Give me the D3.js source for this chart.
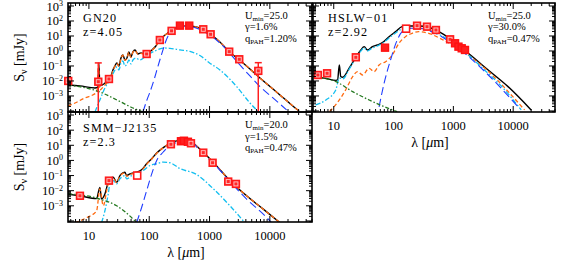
<!DOCTYPE html>
<html><head><meta charset="utf-8">
<script src="https://cdn.jsdelivr.net/npm/d3@7"></script>
<style>
body{margin:0;background:#fff}
svg{display:block}
text{font-family:"Liberation Serif","DejaVu Serif",serif;fill:#000}
</style>
</head><body>
<svg id="c" width="568" height="266"></svg>
<script>
// ---------------- DATA ----------------
const xTickLabels = ["10","100","1000","10000"];
const xTickValues = [10,100,1000,10000];
const yTickExps = [-3,-2,-1,0,1,2,3];

// GN20 (z=4.05)
const gn20Name = "GN20", gn20Z = "z=4.05";
const gn20Params = ["25.0","1.6%","1.20%"];
const gn20ObsLam  = [4.54, 14.3, 21.5, 90.6, 150, 235, 323, 461, 787, 1043, 2120, 3110, 6430];
const gn20ObsFlux = [0.010, 0.0089, 0.0135, 0.63, 5.4, 22, 49, 49, 28, 13, 0.9, 0.28, 0.047];
const gn20ObsHollow = [1,1,1,1,1,1,0,0,1,1,1,1,1];
const gn20ErrLo = [null, 1e-6, null, 0.42, null, null, null, null, null, null, null, null, 1e-6];
const gn20ErrHi = [null, 0.16, null, 0.95, null, null, null, null, null, null, null, null, 0.166];
const gn20TotLam  = [4.5, 7.1, 12.6, 14.1, 14.6, 15.2, 17.7, 20.7, 23.2, 25, 27, 29.1, 31.5, 34, 36.6, 39.6, 42.7, 46, 49.7, 53.7, 58, 65, 72.8, 84.9, 95, 111, 129, 150, 175, 204, 238, 277, 348, 400, 473, 618, 839, 1055, 1486, 2100, 3075, 4680, 6860, 10040, 14700, 21500, 30400];
const gn20TotFlux = [0.0054, 0.0047, 0.0034, 0.0039, 0.16, 0.0047, 0.0063, 0.0117, 0.0215, 0.054, 0.1, 0.16, 0.1, 0.34, 0.54, 0.25, 0.34, 0.86, 0.4, 0.86, 1.17, 0.63, 0.74, 0.63, 0.74, 1.17, 2.15, 5.4, 10, 16, 24, 35, 47, 49, 46, 38, 25, 12.6, 4.0, 0.93, 0.27, 0.063, 0.0158, 0.0043, 0.00117, 0.000316, 0.0001];
const gn20DustLam  = [4.5, 5.9, 8.6, 11.6, 13.6, 14.4, 15.2, 17.7, 20.7, 23.2, 25, 27, 29.1, 31.5, 34, 36.6, 39.6, 42.7, 46, 49.7, 53.7, 58, 65, 72.8, 84.9, 95, 111, 129, 150, 175, 204, 238, 277, 348, 400, 473, 618, 839, 1055, 1486, 2100, 3075, 4680, 6860, 10040, 14700, 21500, 30400];
const gn20DustFlux = [0.000215, 0.00034, 0.00074, 0.00117, 0.00185, 0.117, 0.0025, 0.0046, 0.0086, 0.0158, 0.05, 0.095, 0.15, 0.095, 0.32, 0.52, 0.24, 0.33, 0.83, 0.38, 0.83, 1.12, 0.6, 0.7, 0.6, 0.7, 1.12, 2.1, 5.3, 10, 16, 24, 35, 47, 49, 46, 38, 25, 12.6, 4.0, 0.93, 0.27, 0.063, 0.0158, 0.0043, 0.00117, 0.000316, 0.0001];
const gn20WarmLam  = [12.6, 15.2, 18.4, 22.3, 25, 27, 29.1, 31.5, 34, 36.6, 39.6, 42.7, 46, 49.7, 53.7, 60, 70, 84.9, 99, 124, 150, 182, 220, 323, 473, 693, 1000, 1486, 2820, 4680, 6430];
const gn20WarmFlux = [0.000085, 0.00054, 0.0034, 0.0117, 0.029, 0.054, 0.086, 0.054, 0.16, 0.215, 0.1, 0.136, 0.25, 0.136, 0.25, 0.34, 0.25, 0.4, 0.63, 1.0, 1.36, 1.58, 1.5, 1.17, 0.93, 0.5, 0.16, 0.054, 0.0042, 0.00034, 0.00009];
const gn20ColdLam  = [78.7, 91.6, 103, 120, 134, 150, 169, 189, 220, 267, 348, 473, 693, 1486, 3190, 4680, 6860, 11270, 18970];
const gn20ColdFlux = [0.000085, 0.00054, 0.00185, 0.0117, 0.054, 0.25, 1.17, 4.6, 15.8, 34, 46, 43, 27, 3.4, 0.117, 0.0215, 0.0042, 0.00074, 0.000117];
const gn20StarLam  = [4.5, 15.2, 29.1, 53.7, 78.7];
const gn20StarFlux = [0.0054, 0.00185, 0.00054, 0.000158, 0.000085];

// HSLW-01 (z=2.92)
const hslwName = "HSLW\u221201", hslwZ = "z=2.92";
const hslwParams = ["25.0","30.0%","0.47%"];
const hslwObsLam  = [5.43, 7.74, 23.4, 72, 162, 247, 362, 511, 881, 1067, 1216, 1378, 1563];
const hslwObsFlux = [0.025, 0.0326, 0.38, 1.66, 30.7, 48.6, 41.7, 25.1, 6.0, 3.26, 1.94, 1.51, 1.17];
const hslwObsHollow = [1,1,1,0,2,1,1,1,1,0,0,0,0];
const hslwErrLo = [null,null,null,null,null,null,null,null,null,null,null,null,null];
const hslwErrHi = [null,null,null,null,null,null,null,null,null,null,null,null,null];
const hslwTotLam  = [4.79, 7.0, 10.9, 11.6, 12.4, 13.1, 14.1, 18.2, 23.4, 28.4, 32.3, 36.6, 44.4, 53.7, 65, 84, 108, 139, 180, 264, 386, 643, 1067, 1778, 3820, 8200, 19950];
const hslwTotFlux = [0.019, 0.0155, 0.011, 0.012, 0.117, 0.02, 0.0175, 0.075, 0.38, 1.17, 1.94, 1.17, 1.94, 2.5, 3.6, 9.0, 19.4, 41.7, 46.4, 46.4, 38, 15.1, 3.6, 0.70, 0.054, 0.0042, 0.000117];
const hslwDustLam  = [8.5, 12.4, 15.8, 20.7, 25, 30.3, 39.1, 47.3, 57.3, 73.6, 95, 123, 158, 204, 264, 386, 643, 1216, 3360, 15500];
const hslwDustFlux = [0.00009, 0.00054, 0.0025, 0.0194, 0.042, 0.025, 0.07, 0.042, 0.117, 0.194, 0.54, 3.26, 9.0, 15.1, 19.4, 15.1, 6.0, 1.51, 0.07, 0.000117];
const hslwWarmLam  = [5.0, 7.4, 10.8, 12.4, 14.1, 18.2, 23.4, 28.4, 32.3, 36.6, 44.4, 53.7, 65, 84, 108, 139, 180, 264, 386, 643, 940, 1778, 3310, 6310, 13600];
const hslwWarmFlux = [0.00025, 0.00054, 0.0025, 0.0158, 0.0136, 0.063, 0.34, 1.0, 1.58, 1.0, 1.58, 2.15, 3.16, 7.4, 15.8, 29, 32.6, 31.6, 25.1, 10, 4.2, 0.54, 0.054, 0.0046, 0.000117];
const hslwColdLam  = [57.3, 69.4, 89, 115, 139, 180, 264, 386, 940, 3360, 12000];
const hslwColdFlux = [0.00019, 0.007, 0.25, 5.4, 19.4, 32.6, 32.6, 23.3, 3.26, 0.042, 0.00019];
const hslwStarLam  = [5.08, 10.9, 20.7, 39.1, 65, 115];
const hslwStarFlux = [0.0177, 0.009, 0.00194, 0.00054, 0.000215, 0.00009];

// SMM-J2135 (z=2.3)
const smmName = "SMM\u2212J2135", smmZ = "z=2.3";
const smmParams = ["20.0","1.5%","0.47%"];
const smmObsLam  = [7.1, 21.5, 63.2, 229, 336, 376, 438, 492, 787, 1125, 2040, 2740];
const smmObsFlux = [0.0046, 0.046, 0.1, 11.7, 18.5, 20, 17.1, 13.6, 3.26, 0.70, 0.04, 0.028];
const smmObsHollow = [1,1,2,1,0,0,0,1,1,1,1,1];
const smmErrLo = [null,null,null,null,null,null,null,null,null,null,null,null];
const smmErrHi = [null,null,null,null,null,null,null,null,null,null,null,null];
const smmTotLam  = [4.54, 7.1, 13.4, 15.2, 16.2, 18.4, 20.9, 22.3, 25.3, 28.8, 32.7, 34.8, 39.5, 42.2, 47.9, 61.8, 74.8, 90.6, 110, 133, 171, 220, 323, 391, 505, 693, 1150, 2180, 4120, 7780, 14700];
const smmTotFlux = [0.0058, 0.0045, 0.003, 0.0166, 0.0028, 0.006, 0.036, 0.06, 0.077, 0.036, 0.1, 0.13, 0.166, 0.1, 0.13, 0.166, 0.24, 0.6, 1.3, 3.07, 7.0, 13.0, 21, 21, 16, 5.5, 0.77, 0.046, 0.0046, 0.0006, 0.000077];
const smmDustLam  = [5.86, 9.2, 13.4, 15.2, 17.3, 19.7, 20.9, 22.3, 25.3, 28.8, 32.7, 34.8, 39.5, 42.2, 47.9, 61.8, 74.8, 90.6, 110, 133, 171, 220, 323, 391, 505, 693, 1150, 2180, 4120, 7780, 14700];
const smmDustFlux = [0.000077, 0.000166, 0.00046, 0.013, 0.001, 0.01, 0.028, 0.055, 0.07, 0.033, 0.09, 0.12, 0.15, 0.09, 0.12, 0.15, 0.22, 0.55, 1.25, 3.0, 6.9, 13.0, 21, 21, 16, 5.5, 0.77, 0.046, 0.0046, 0.0006, 0.000077];
const smmWarmLam  = [16.2, 18.4, 20.9, 22.3, 25.3, 28.8, 32.7, 39.5, 42.2, 51, 61.8, 79.4, 103, 133, 171, 220, 323, 611, 1150, 2180, 3860];
const smmWarmFlux = [0.000077, 0.00046, 0.006, 0.028, 0.046, 0.028, 0.06, 0.1, 0.06, 0.1, 0.13, 0.215, 0.46, 0.6, 0.77, 0.70, 0.29, 0.117, 0.0136, 0.001, 0.000077];
const smmColdLam  = [61.8, 74.8, 90.6, 110, 133, 171, 220, 284, 391, 510, 693, 1150, 2180, 4120, 7780, 10700];
const smmColdFlux = [0.000077, 0.00077, 0.01, 0.13, 1.0, 3.6, 10, 15.1, 18.5, 15.8, 4.3, 0.68, 0.04, 0.0028, 0.00028, 0.000077];
const smmStarLam  = [4.54, 15.2, 28.8, 54.3, 61.8];
const smmStarFlux = [0.0062, 0.0028, 0.001, 0.00013, 0.000077];

// ---------------- DRAWING ----------------
const svg = d3.select('#c');
const xDom = [4.5, 50000];
const yDom = [Math.pow(10,-4.07), Math.pow(10,3.2)];

const styles = {
  tot:  {color:'#000000', w:1.4, dash:null},
  dust: {color:'#ff6a10', w:1.3, dash:'4,2.5'},
  warm: {color:'#12bff0', w:1.3, dash:'5,2,1.5,2'},
  cold: {color:'#1f3dff', w:1.1, dash:'8,4'},
  star: {color:'#23781f', w:1.3, dash:'4,2,1.5,2'}
};

const panels = [
  {id:'p1', xr:[68,312], yr:[112,3], xLab:false, yLab:true,
   name:gn20Name, z:gn20Z, params:gn20Params, tx:83, ty:22, px:245, py:18.5,
   obs:[gn20ObsLam,gn20ObsFlux,gn20ObsHollow,gn20ErrLo,gn20ErrHi],
   curves:[['tot',gn20TotLam,gn20TotFlux],['dust',gn20DustLam,gn20DustFlux],['warm',gn20WarmLam,gn20WarmFlux],['cold',gn20ColdLam,gn20ColdFlux],['star',gn20StarLam,gn20StarFlux]]},
  {id:'p2', xr:[313,555], yr:[112,3], xLab:true, yLab:false,
   name:hslwName, z:hslwZ, params:hslwParams, tx:328, ty:22, px:488, py:18.5,
   obs:[hslwObsLam,hslwObsFlux,hslwObsHollow,hslwErrLo,hslwErrHi],
   curves:[['tot',hslwTotLam,hslwTotFlux],['dust',hslwDustLam,hslwDustFlux],['warm',hslwWarmLam,hslwWarmFlux],['cold',hslwColdLam,hslwColdFlux],['star',hslwStarLam,hslwStarFlux]]},
  {id:'p3', xr:[68,312], yr:[222,112], xLab:true, yLab:true,
   name:smmName, z:smmZ, params:smmParams, tx:83, ty:132, px:245, py:128,
   obs:[smmObsLam,smmObsFlux,smmObsHollow,smmErrLo,smmErrHi],
   curves:[['tot',smmTotLam,smmTotFlux],['dust',smmDustLam,smmDustFlux],['warm',smmWarmLam,smmWarmFlux],['cold',smmColdLam,smmColdFlux],['star',smmStarLam,smmStarFlux]]}
];

const defs = svg.append('defs');

panels.forEach(p => {
  const x = d3.scaleLog().domain(xDom).range(p.xr);
  const y = d3.scaleLog().domain(yDom).range(p.yr);
  const g = svg.append('g');
  defs.append('clipPath').attr('id','clip-'+p.id).append('rect')
    .attr('x',p.xr[0]).attr('y',p.yr[1]).attr('width',p.xr[1]-p.xr[0]).attr('height',p.yr[0]-p.yr[1]);
  const pg = g.append('g').attr('clip-path','url(#clip-'+p.id+')');

  const order = ['tot','dust','warm','cold','star'];
  order.forEach(k => {
    const c = p.curves.find(cc => cc[0]===k);
    const pts = c[1].map((l,i)=>[l,c[2][i]]);
    const st = styles[k];
    const line = d3.line().x(d=>x(d[0])).y(d=>y(d[1])).curve(d3.curveMonotoneX);
    pg.append('path').attr('d',line(pts)).attr('fill','none')
      .attr('stroke',st.color).attr('stroke-width',st.w)
      .attr('stroke-dasharray',st.dash).attr('stroke-linejoin','round');
  });

  // error bars
  const [oL,oF,oH,eLo,eHi] = p.obs;
  oL.forEach((l,i)=>{
    if (eHi[i]!==null) {
      const lo = Math.max(eLo[i], yDom[0]);
      pg.append('line').attr('x1',x(l)).attr('x2',x(l)).attr('y1',y(lo)).attr('y2',y(eHi[i]))
        .attr('stroke','#ff1f1f').attr('stroke-width',1.5);
      pg.append('line').attr('x1',x(l)-3.5).attr('x2',x(l)+3.5).attr('y1',y(eHi[i])).attr('y2',y(eHi[i]))
        .attr('stroke','#ff1f1f').attr('stroke-width',1.5);
    }
  });
  // points
  oL.forEach((l,i)=>{
    const cx = x(l), cy = y(oF[i]), s = 7;
    if (oH[i]===2) {
      g.append('rect').attr('x',cx-s/2).attr('y',cy-s/2).attr('width',s).attr('height',s)
        .attr('fill','#ffffff').attr('stroke','#ff1a1a').attr('stroke-width',1.6);
    } else if (oH[i]===1) {
      g.append('rect').attr('x',cx-s/2).attr('y',cy-s/2).attr('width',s).attr('height',s)
        .attr('fill','#ff2a2a').attr('stroke','#ff1a1a').attr('stroke-width',1.4);
      g.append('rect').attr('x',cx-2).attr('y',cy-2).attr('width',4).attr('height',4)
        .attr('fill','none').attr('stroke','#ffc4c4').attr('stroke-width',0.9);
    } else {
      g.append('rect').attr('x',cx-s/2).attr('y',cy-s/2).attr('width',s).attr('height',s)
        .attr('fill','#ff2020').attr('stroke','#ff1010').attr('stroke-width',1.4);
    }
  });

  // frame
  g.append('rect').attr('x',p.xr[0]).attr('y',p.yr[1]).attr('width',p.xr[1]-p.xr[0]).attr('height',p.yr[0]-p.yr[1])
    .attr('fill','none').attr('stroke','#000').attr('stroke-width',1.6);

  // ticks
  const tk = g.append('g').attr('stroke','#000').attr('stroke-width',1);
  for (let e=0; e<=4; e++) for (let m=1; m<=9; m++) {
    const v = m*Math.pow(10,e);
    if (v < xDom[0] || v > xDom[1]) continue;
    const len = m===1 ? 6 : 3, xx = x(v);
    tk.append('line').attr('x1',xx).attr('x2',xx).attr('y1',p.yr[0]).attr('y2',p.yr[0]-len);
    tk.append('line').attr('x1',xx).attr('x2',xx).attr('y1',p.yr[1]).attr('y2',p.yr[1]+len);
  }
  for (let e=-5; e<=3; e++) for (let m=1; m<=9; m++) {
    const v = m*Math.pow(10,e);
    if (v < yDom[0] || v > yDom[1]) continue;
    const len = m===1 ? 6 : 3, yy = y(v);
    tk.append('line').attr('x1',p.xr[0]).attr('x2',p.xr[0]+len).attr('y1',yy).attr('y2',yy);
    tk.append('line').attr('x1',p.xr[1]).attr('x2',p.xr[1]-len).attr('y1',yy).attr('y2',yy);
  }

  // y labels
  if (p.yLab) {
    yTickExps.forEach(e => {
      const t = g.append('text').attr('x',63).attr('y',y(Math.pow(10,e))+4.5)
        .attr('text-anchor','end').attr('font-size',12.5);
      t.append('tspan').text('10');
      t.append('tspan').attr('dy',-4.5).attr('font-size',8).text(e<0 ? '\u2212'+(-e) : ''+e);
    });
    const cy = (p.yr[0]+p.yr[1])/2;
    const t = g.append('text').attr('transform',`translate(24,${cy}) rotate(-90)`)
      .attr('text-anchor','middle').attr('font-size',14);
    t.append('tspan').text('S');
    t.append('tspan').attr('dy',3).attr('font-size',10).text('\u03bd');
    t.append('tspan').attr('dy',-3).text(' [mJy]');
  }
  // x labels
  if (p.xLab) {
    xTickValues.forEach((v,i) => {
      g.append('text').attr('x',x(v)).attr('y',p.yr[0]+18).attr('text-anchor','middle')
        .attr('font-size',12.5).text(xTickLabels[i]);
    });
    const t = g.append('text').attr('x',(p.xr[0]+p.xr[1])/2 - 4).attr('y',p.yr[0]+35)
      .attr('text-anchor','middle').attr('font-size',14);
    t.append('tspan').text('\u03bb  [');
    t.append('tspan').attr('font-style','italic').text('\u03bc');
    t.append('tspan').text('m]');
  }

  // name + z
  g.append('text').attr('x',p.tx).attr('y',p.ty).attr('font-size',12.2).attr('letter-spacing',1.1).text(p.name);
  g.append('text').attr('x',p.tx).attr('y',p.ty+13.6).attr('font-size',12.2).attr('letter-spacing',1.1).text(p.z);

  // parameters
  const fs = 10.5, lh = 11.6;
  let t = g.append('text').attr('x',p.px).attr('y',p.py).attr('font-size',fs);
  t.append('tspan').text('U');
  t.append('tspan').attr('dy',2).attr('font-size',7).text('min');
  t.append('tspan').attr('dy',-2).text('='+p.params[0]);
  g.append('text').attr('x',p.px).attr('y',p.py+lh).attr('font-size',fs).text('\u03b3='+p.params[1]);
  t = g.append('text').attr('x',p.px).attr('y',p.py+2*lh).attr('font-size',fs);
  t.append('tspan').text('q');
  t.append('tspan').attr('dy',2).attr('font-size',7).text('PAH');
  t.append('tspan').attr('dy',-2).text('='+p.params[2]);
});
</script>
</body></html>
